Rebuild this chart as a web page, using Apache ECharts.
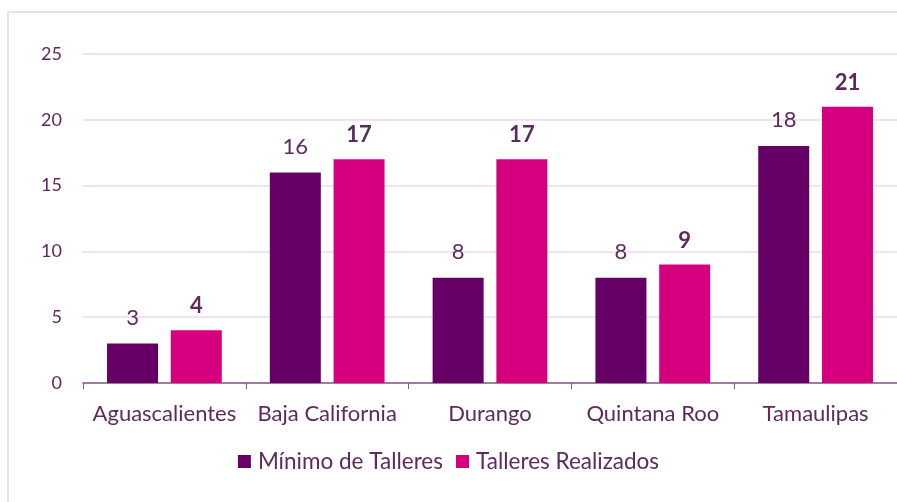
<!DOCTYPE html>
<html>
<head>
<meta charset="utf-8">
<script src="https://cdn.jsdelivr.net/npm/echarts@6/dist/echarts.min.js"></script>
<style>
  html, body { margin: 0; padding: 0; background: #fff; }
  #chart { width: 897px; height: 502px; }
</style>
</head>
<body>
<div id="chart"></div>
<script>
// Workshops per state: required minimum vs. held
const estados = ['Aguascalientes', 'Baja California', 'Durango', 'Quintana Roo', 'Tamaulipas'];
const minimoTalleres = [3, 16, 8, 8, 18];
const talleresRealizados = [4, 17, 17, 9, 21];
const serieNombres = ['Mínimo de Talleres', 'Talleres Realizados'];
const ejeYTicks = [0, 5, 10, 15, 20, 25];

const FONT = 'Lato, "Open Sans", sans-serif';
const TEXT = '#5E2A5E';

const chart = echarts.init(document.getElementById('chart'));
chart.setOption({
  animation: false,
  textStyle: { fontFamily: FONT },
  graphic: [{
    type: 'rect',
    shape: { x: 8, y: 12, width: 900, height: 500 },
    style: { fill: 'none', stroke: '#EEDDEE', lineWidth: 2 },
    silent: true
  }],
  legend: {
    data: serieNombres,
    bottom: 24,
    left: 'center',
    itemWidth: 13,
    itemHeight: 13,
    itemGap: 13,
    icon: 'rect',
    textStyle: { fontFamily: FONT, fontSize: 22.5, color: TEXT, padding: [0, 0, 0, 2] }
  },
  grid: { left: 83, right: -10, top: 54, bottom: 119 },
  xAxis: {
    type: 'category',
    data: estados,
    axisLine: { lineStyle: { color: '#80607F', width: 1.5 } },
    axisTick: { show: true, interval: 0, length: 6, alignWithLabel: false, lineStyle: { color: '#80607F' } },
    axisLabel: { interval: 0, fontFamily: FONT, fontSize: 22, color: TEXT, margin: 20 }
  },
  yAxis: {
    type: 'value',
    min: ejeYTicks[0],
    max: ejeYTicks[ejeYTicks.length - 1],
    interval: 5,
    axisLine: { show: false },
    axisTick: { show: false },
    splitLine: { lineStyle: { color: '#EED8EE', width: 1.5 } },
    axisLabel: { fontFamily: FONT, fontSize: 18, color: TEXT, margin: 21 }
  },
  series: [
    {
      name: serieNombres[0],
      type: 'bar',
      data: minimoTalleres,
      barWidth: 51,
      barGap: '25%',
      itemStyle: { color: '#660066' },
      label: {
        show: true, position: 'top', distance: 15,
        fontFamily: FONT, fontSize: 22, color: TEXT
      }
    },
    {
      name: serieNombres[1],
      type: 'bar',
      data: talleresRealizados,
      barWidth: 51,
      barGap: '25%',
      itemStyle: { color: '#D6007F' },
      label: {
        show: true, position: 'top', distance: 13,
        fontFamily: FONT, fontSize: 22, fontWeight: 'bold', color: TEXT
      }
    }
  ]
});
</script>
</body>
</html>
